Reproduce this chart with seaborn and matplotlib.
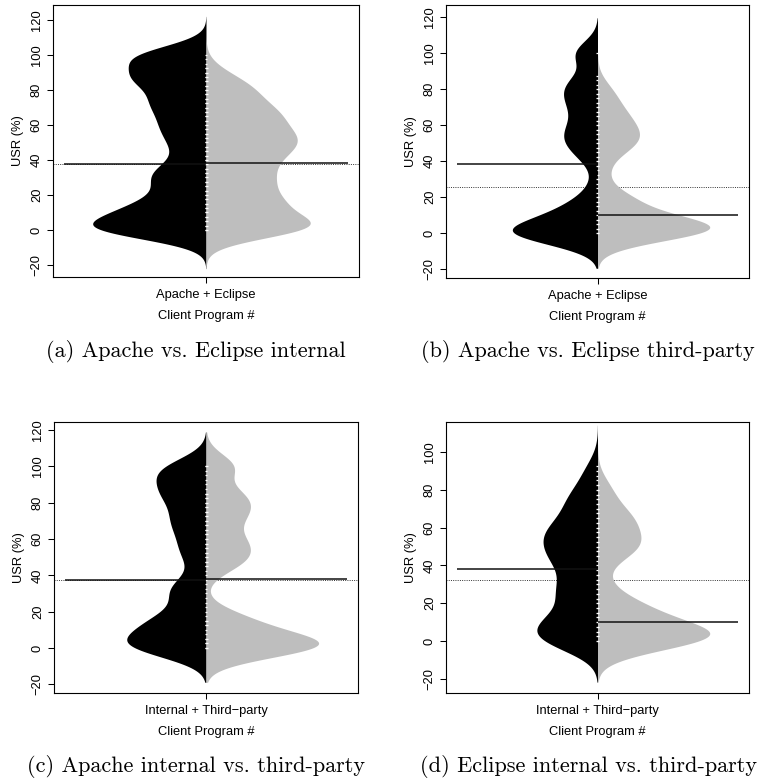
import numpy as np
import pandas as pd
import matplotlib
matplotlib.use("Agg")
import matplotlib.pyplot as plt
import seaborn as sns

# ---------------- data ----------------
# observed USR values (%) and how many client programs sit at each value
usr_levels = [0, 2.5, 5, 7.5, 10, 12.5, 15, 17.5, 20, 22.5, 25, 27.5, 30, 32.5, 35, 37.5, 40,
              42.5, 45, 47.5, 50, 52.5, 55, 57.5, 60, 62.5, 65, 67.5, 70, 72.5, 75, 77.5, 80,
              82.5, 85, 87.5, 90, 92.5, 95, 97.5, 100]

a_left_counts = [65, 6, 7, 14, 17, 13, 9, 7, 6, 6, 6, 7, 9, 11, 9, 4, 3, 3, 4, 6, 6,
                 5, 5, 7, 8, 7, 5, 5, 8, 11, 10, 6, 4, 5, 12, 21, 12, 4, 2, 6, 42]
a_right_counts = [40, 26, 11, 6, 7, 13, 16, 11, 7, 7, 9, 12, 10, 8, 8, 9, 10, 11, 11, 12, 14,
                  15, 13, 10, 9, 10, 12, 12, 10, 7, 6, 7, 8, 8, 6, 3, 3, 3, 0, 0, 0]
b_left_counts = [121, 6, 5, 9, 16, 16, 10, 4, 3, 3, 3, 3, 1, 0, 0, 1, 4, 7, 8, 7, 8,
                 11, 12, 10, 7, 5, 4, 6, 9, 10, 9, 7, 8, 14, 14, 2, 0, 0, 0, 0, 36]
b_right_counts = [7, 167, 17, 1, 0, 1, 11, 39, 7, 0, 0, 0, 1, 8, 4, 1, 1, 2, 6, 12, 15,
                  14, 12, 10, 9, 9, 10, 9, 6, 3, 3, 8, 9, 0, 0, 0, 0, 0, 0, 0, 0]
c_left_counts = [54, 22, 11, 9, 11, 17, 19, 12, 5, 2, 2, 5, 12, 16, 9, 3, 1, 1, 2, 4, 7,
                 7, 6, 5, 5, 5, 6, 8, 10, 9, 6, 4, 5, 9, 15, 14, 7, 4, 6, 21, 22]
c_right_counts = [52, 94, 3, 0, 0, 6, 44, 0, 0, 0, 0, 0, 0, 0, 0, 0, 0, 0, 8, 23, 6,
                  4, 8, 16, 12, 4, 2, 2, 7, 16, 11, 5, 5, 15, 20, 0, 0, 0, 0, 0, 36]
d_left_counts = [56, 3, 6, 18, 25, 13, 5, 3, 4, 10, 17, 15, 8, 5, 5, 7, 11, 14, 13, 12, 11,
                 12, 15, 16, 14, 10, 7, 6, 6, 8, 11, 10, 5, 2, 2, 3, 7, 5, 0, 0, 0]
d_right_counts = [33, 108, 32, 7, 4, 7, 21, 28, 11, 2, 1, 2, 5, 5, 1, 0, 0, 0, 4, 17, 22,
                  12, 6, 5, 7, 12, 16, 11, 4, 1, 1, 3, 12, 3, 0, 0, 0, 0, 0, 0, 0]

group_names = [("Apache internal", "Eclipse internal"),
               ("Apache third-party", "Eclipse third-party"),
               ("Apache internal", "Apache third-party"),
               ("Eclipse internal", "Eclipse third-party")]
pair_labels = ["Apache + Eclipse", "Apache + Eclipse",
               "Internal + Third\u2212party", "Internal + Third\u2212party"]
captions = ["(a) Apache vs. Eclipse internal", "(b) Apache vs. Eclipse third-party",
            "(c) Apache internal vs. third-party", "(d) Eclipse internal vs. third-party"]
bean_medians = [(37.5, 38.0), (38.3, 10.0), (37.4, 38.0), (37.9, 10.0)]
overall_means = [37.6, 25.7, 37.2, 32.1]
bandwidths = [6.5, 7.0, 7.0, 7.5]

all_counts = [(a_left_counts, a_right_counts), (b_left_counts, b_right_counts),
              (c_left_counts, c_right_counts), (d_left_counts, d_right_counts)]

# ---------------- layout ----------------
W, H = 759, 780
axes_px = [(53, 5, 359, 277), (446, 5, 749, 278), (54, 422, 358, 693), (446, 422, 749, 693)]
ylims = [(-26.9, 128.6), (-25.0, 126.7), (-24.8, 124.4), (-27.5, 115.9)]
yticks = [[-20, 0, 20, 40, 60, 80, 100, 120]] * 3 + [[-20, 0, 20, 40, 60, 80, 100]]
kde_cut = [3.4, 2.8, 2.7, 2.9]
caption_px = [(196, 352), (588, 352), (196, 767), (589, 767)]
FS = 9.3

sns.set_theme(style="ticks", rc={
    "axes.edgecolor": "black", "axes.labelcolor": "black", "text.color": "black",
    "xtick.color": "black", "ytick.color": "black", "axes.linewidth": 0.8,
    "figure.facecolor": "white", "axes.facecolor": "white",
})
plt.rcParams["font.family"] = ["Liberation Sans", "DejaVu Sans"]


def fixed_bw(bw):
    return lambda kde: bw / np.std(kde.dataset, ddof=1)


fig = plt.figure(figsize=(W / 100, H / 100), dpi=100)

for i in range(4):
    x0, y0, x1, y1 = axes_px[i]
    ax = fig.add_axes([x0 / W, 1 - y1 / H, (x1 - x0) / W, (y1 - y0) / H])
    left_name, right_name = group_names[i]
    lc, rcn = all_counts[i]
    df = pd.DataFrame({
        "usr": np.concatenate([np.repeat(usr_levels, lc), np.repeat(usr_levels, rcn)]),
        "group": [left_name] * int(sum(lc)) + [right_name] * int(sum(rcn)),
    })
    df["pair"] = pair_labels[i]

    # overall average line (behind the beans)
    ax.axhline(overall_means[i], color="#333333", lw=0.7, ls=(0, (1, 1.3)), zorder=0.5)

    sns.violinplot(data=df, x="pair", y="usr", hue="group", hue_order=[left_name, right_name],
                   split=True, inner=None, palette=["black", "#BEBEBE"], saturation=1,
                   linewidth=0, width=0.8, density_norm="area", common_norm=True,
                   cut=kde_cut[i], gridsize=400, bw_method=fixed_bw(bandwidths[i]),
                   legend=False, ax=ax)

    # bean lines: one short white tick per observed value
    lv = [v for v, c in zip(usr_levels, lc) if c > 0]
    rv = [v for v, c in zip(usr_levels, rcn) if c > 0]
    ax.hlines(lv, -0.004, 0.002, colors="white", lw=0.9, zorder=4)
    ax.hlines(rv, -0.002, 0.007, colors="white", lw=0.9, zorder=4)

    # per-bean median lines
    ml, mr = bean_medians[i]
    ax.hlines(ml, -0.5, 0.0, colors="#111111", lw=1.1, zorder=5)
    ax.hlines(mr, 0.0, 0.5, colors="#111111", lw=1.1, zorder=5)

    ax.set_xlim(-0.54, 0.54)
    ax.set_ylim(*ylims[i])
    ax.set_yticks(yticks[i])
    ax.set_ylabel("USR (%)", fontsize=FS, labelpad=5)
    ax.set_xlabel("Client Program #", fontsize=FS, labelpad=7)
    ax.tick_params(axis="y", labelrotation=90, labelsize=FS, length=4.3, width=0.75, pad=3)
    ax.tick_params(axis="x", labelsize=FS, length=4.3, width=0.75, pad=4)
    for lbl in ax.get_yticklabels():
        lbl.set_va("center")
    for s in ax.spines.values():
        s.set_visible(True)
        s.set_linewidth(0.8)
        s.set_color("black")

    cx, cy = caption_px[i]
    fig.text(cx / W, 1 - cy / H, captions[i], family="cmr10", fontsize=16,
             ha="center", va="center")

fig.savefig("out.png", dpi=100)
